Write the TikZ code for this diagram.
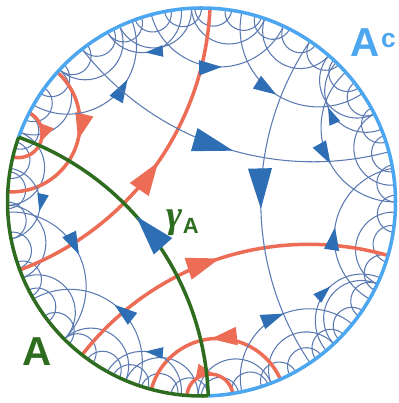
\documentclass[tikz,border=0pt]{standalone}
\usepackage{fontspec}
\setsansfont{Liberation Sans}
\newfontfamily\greekfont{Liberation Serif}
\usetikzlibrary{arrows.meta, decorations.markings}

\definecolor{bdryblue}{RGB}{77,166,240}
\definecolor{edgeblue}{RGB}{92,122,178}
\definecolor{tipblue}{RGB}{46,110,180}
\definecolor{threadred}{RGB}{236,108,86}
\definecolor{rtgreen}{RGB}{46,108,32}

\def\diskR{3.88}
% geodesic of the disk between two boundary angles, drawn from #2 to #3
\newcommand{\geod}[3][]{%
  \pgfmathsetmacro\geoM{((#2)+(#3))/2}%
  \pgfmathsetmacro\geoH{abs((#3)-(#2))/2}%
  \pgfmathsetmacro\geoS{(#3)>(#2) ? 1 : -1}%
  \pgfmathsetmacro\geoA{\geoM+180+\geoS*(90-\geoH)}%
  \pgfmathsetmacro\geoB{\geoM+180-\geoS*(90-\geoH)}%
  \pgfmathsetmacro\geoR{\diskR*tan(\geoH)}%
  \draw[#1] (#2:\diskR) arc[start angle=\geoA, end angle=\geoB, radius=\geoR];%
}

\begin{document}
\begin{tikzpicture}[
  edge/.style={draw=edgeblue, line width=0.6pt},
  thread/.style={draw=threadred, line width=2pt},
  rt/.style={draw=rtgreen, line width=2pt},
  bdry/.style={line width=2pt},
  marktip/.style n args={4}{postaction={decorate}, decoration={markings, mark=at position #1 with {\arrow{Triangle[length=#2, width=#3, color=#4]}}}},
  bigtip/.style={marktip={#1}{23pt}{13.5pt}{tipblue}},
  medtip/.style={marktip={#1}{13pt}{8.5pt}{tipblue}},
  smalltip/.style={marktip={#1}{10pt}{6.5pt}{tipblue}},
  bigthread/.style={marktip={#1}{19pt}{12.5pt}{threadred}},
  medthread/.style={marktip={#1}{15pt}{10pt}{threadred}},
  smallthread/.style={marktip={#1}{10pt}{8pt}{threadred}},
  tag/.style={font=\sffamily\bfseries, inner sep=0pt, anchor=base west},
]
\useasboundingbox (-4.03,-4.02) rectangle (3.93,4.04);

% small arcs along the boundary
\foreach \t in {0,9,...,351} {\geod[edge]{\t}{\t+11}}
\foreach \t in {5,27,...,335} {\geod[edge]{\t}{\t+22}}

% orange threads
\geod[thread, bigthread=0.52]{200.5}{87.5}
\geod[thread, medthread=0.44]{138}{177}
\geod[thread, smallthread=0.50]{152.6}{166.6}
\geod[thread, bigthread=0.50]{232}{344}
\geod[thread, medthread=0.51]{294}{255}
\geod[thread, smallthread=0.58]{265.7}{279.3}

% flow edges
\geod[edge, medtip=0.55]{105}{65}
\geod[edge, medtip=0.51]{78}{34}
\geod[edge, medtip=0.64]{150}{111}
\geod[edge, medtip=0.56]{42}{0}
\geod[edge, medtip=0.49]{-30}{10}
\geod[edge, smalltip=0.57]{-50}{-23}
\geod[edge, medtip=0.57]{-78}{-39}
\geod[edge, medtip=0.49]{183}{225}
\geod[edge, medtip=0.51]{251}{210}
\geod[edge, smalltip=0.58]{264}{241}
\geod[edge, smalltip=0.58]{170}{191}
\geod[edge, smalltip=0.58]{96}{119}
\geod[edge, smalltip=0.57]{22}{46}
\geod[edge, bigtip=0.52]{56}{-56}
\geod[edge, bigtip=0.54]{128}{15}

% boundary regions
\draw[bdry, bdryblue] (-88:\diskR) arc[start angle=-88, end angle=160.5, radius=\diskR];
\draw[bdry, rtgreen] (160.5:\diskR) arc[start angle=160.5, end angle=272, radius=\diskR];

% RT surface
\geod[rt, bigtip=0.58]{272}{160.5}

% labels
\node[tag, text=bdryblue, font=\sffamily\bfseries\fontsize{23}{23}\selectfont] (lblAc) at (2.97,2.90) {A\hspace{0.04em}\raisebox{5.5pt}{\fontsize{15}{15}\selectfont c}};
\node[tag, text=rtgreen] (lblgamma) at (-0.70,-0.52) {{\greekfont\bfseries\itshape\fontsize{22}{22}\selectfont γ}\raisebox{-3pt}{\fontsize{12.5}{12.5}\selectfont A}};
\node[tag, text=rtgreen, font=\sffamily\bfseries\fontsize{23}{23}\selectfont] (lblA) at (-3.59,-3.26) {A};

\end{tikzpicture}
\end{document}
